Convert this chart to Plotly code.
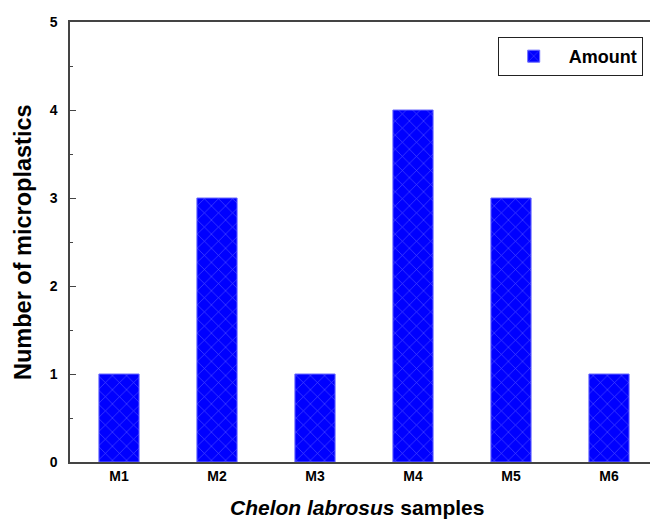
import plotly.graph_objects as go

samples = ["M1", "M2", "M3", "M4", "M5", "M6"]
amounts = [1, 3, 1, 4, 3, 1]
y_ticks = [0, 1, 2, 3, 4, 5]

FONT = "Liberation Sans, Arial, sans-serif"

fig = go.Figure()
fig.add_trace(go.Bar(
    x=samples, y=amounts, name="<b>Amount</b>", width=0.41,
    marker=dict(color="#0000ff", line=dict(color="#6a6aff", width=1),
                pattern=dict(shape="x", fgcolor="#9a9aff", bgcolor="#0000ff",
                             size=10, solidity=0.12)),
    showlegend=True,
))

fig.update_layout(
    width=658, height=523,
    margin=dict(l=62, r=8, t=14, b=69),
    plot_bgcolor="white", paper_bgcolor="white",
    font=dict(family=FONT, color="black"),
    showlegend=True,
    legend=dict(x=0.974, y=0.966, xanchor="right", yanchor="top",
                bordercolor="#222", borderwidth=1, bgcolor="white",
                font=dict(size=18, family=FONT),
                itemwidth=60, tracegroupgap=0),
    annotations=[
        dict(text="<b>Number of microplastics</b>", xref="paper", yref="paper",
             x=-0.08, y=0.5, xanchor="center", yanchor="middle", textangle=-90,
             showarrow=False, font=dict(size=23.5, family=FONT)),
        dict(text="<b><i>Chelon labrosus</i> samples</b>", xref="paper", yref="paper",
             x=0.4875, y=-0.104, xanchor="center", yanchor="middle",
             showarrow=False, font=dict(size=21, family=FONT)),
    ],
)
fig.update_xaxes(
    range=[-0.5, 5.5], showline=True, linecolor="#444", linewidth=1.5, mirror=True,
    ticks="", tickfont=dict(size=14, family=FONT),
    tickprefix="<b>", ticksuffix="</b>",
    showgrid=False, zeroline=False, automargin=False,
)
fig.update_yaxes(
    range=[0, 5], tickvals=y_ticks, ticktext=[f"<b>{v}</b>" for v in y_ticks],
    showline=True, linecolor="#444", linewidth=1.5, mirror="ticks",
    ticks="inside", ticklen=6, tickcolor="#444", tickwidth=1.2,
    minor=dict(ticks="inside", dtick=0.5, ticklen=3, tickcolor="#444", tickwidth=1),
    tickfont=dict(size=14), ticklabelstandoff=8,
    showgrid=False, zeroline=False, automargin=False,
)

fig.write_html("out.html")
